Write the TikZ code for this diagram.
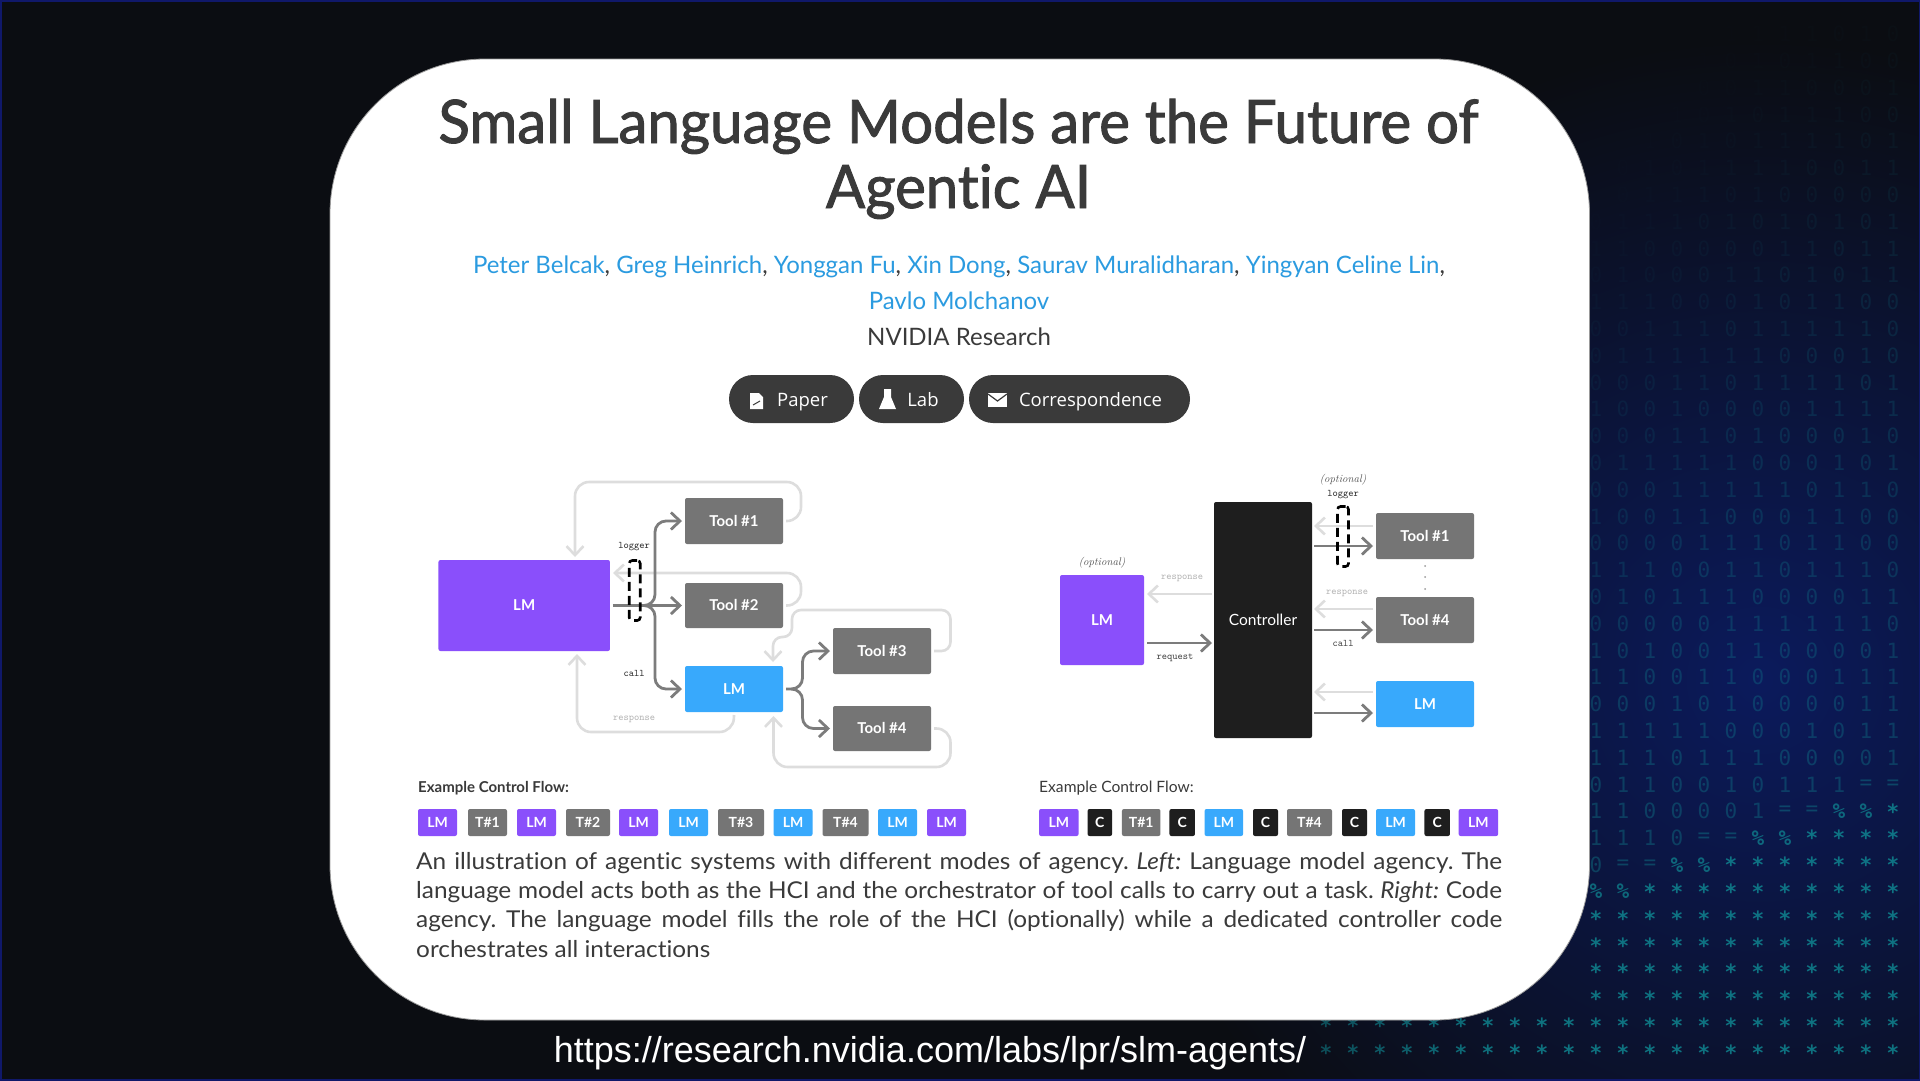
\documentclass[tikz,border=0pt]{standalone}
\usepackage{fontspec}
\usetikzlibrary{arrows.meta}
\newfontfamily\heads[FakeBold=1.6,FakeStretch=0.97,Ligatures=NoCommon]{Lato}
\newfontfamily\bodyf[Ligatures=NoCommon]{Lato}
\newfontfamily\capf[FakeStretch=1.05,Ligatures=NoCommon]{Lato}
\newfontfamily\pillf{Open Sans}
\newfontfamily\glyphf{DejaVu Sans Mono}
\newfontfamily\urlf{Liberation Sans}
\definecolor{bgdark}{HTML}{0B0D12}
\definecolor{glowblue}{HTML}{0B1A5C}
\definecolor{rimblue}{HTML}{10186A}
\definecolor{lmpurple}{HTML}{8A4FFB}
\definecolor{lmblue}{HTML}{38A9FC}
\definecolor{toolgrey}{HTML}{757575}
\definecolor{ctrlblack}{HTML}{1E1E1E}
\definecolor{callgrey}{HTML}{7C7C7C}
\definecolor{backgrey}{HTML}{DDDDDD}
\definecolor{linkblue}{HTML}{2B9BE0}
\definecolor{inktext}{HTML}{3A3A3A}
\definecolor{pillgrey}{HTML}{3A3A3A}
\definecolor{glyphteal}{HTML}{0F8A94}
\newcommand{\capline}[1]{\hbox to 1086pt{\frenchspacing #1}}
\newcommand{\fz}[1]{\fontsize{#1}{#1}\selectfont}
\tikzset{
  >={Straight Barb[length=9pt,width=17pt]},
  glyph/.style={inner sep=0pt,text=glyphteal,font=\glyphf\fz{21}},
  box/.style={inner sep=0pt,outer sep=3pt,rounded corners=2,text=white,text height=10,text depth=0,font=\bodyf\bfseries\fz{15}},
  callline/.style={->,draw=callgrey,line width=2.8},
  backline/.style={->,draw=backgrey,line width=2.6},
  loggerbox/.style={draw=black,line width=2.6,rounded corners=3,dash pattern=on 9pt off 5pt},
  lbl/.style={inner sep=0pt,text=black!85,font=\ttfamily\fz{10}},
  optlbl/.style={inner sep=0pt,text=black!70,font=\itshape\fz{11}},
  chip/.style={inner sep=0pt,rounded corners=2,minimum height=27,text=white,text height=10,text depth=0,font=\bodyf\bfseries\fz{14}},
  pill/.style={fill=pillgrey,rounded corners=24,minimum height=48,inner sep=0pt,text=white,text height=18,text depth=4,font=\pillf\fz{18.5}},
  captext/.style={anchor=base west,inner sep=0pt,text=inktext,font=\capf\fz{23.2}},
}
\begin{document}
\begin{tikzpicture}[x=1pt,y=-1pt]
	\useasboundingbox (0,0) rectangle (1920,1080);
	% backdrop
	\begin{scope}
	\clip (0,0) rectangle (1920,1080);
	\fill [bgdark] (0,0) rectangle (1920,1080);
	\shade [inner color=glowblue,outer color=bgdark] (1760,680) circle (640);
	\pgfmathsetseed{7}
	\foreach \row in {0,...,38} {
		\foreach \col in {-19,...,11} {
			\pgfmathsetmacro{\gx}{1596+27*\col}
			\pgfmathsetmacro{\gy}{34+26.8*\row}
			\pgfmathtruncatemacro{\ghid}{((\gx<1575)&&(\gy<1015))||((\gx<1325)&&(\gy>1020))}
			\ifnum\ghid=0
				\pgfmathtruncatemacro{\gk}{round((\gx-1919+3.07*(\gy-787))/27)}
				\pgfmathsetmacro{\gfade}{min(1,max(0,(\gx-1000)/500))}
				\ifnum\gk<-2
					\pgfmathrandominteger{\gd}{0}{1}
					\def\gch{\gd}
					\pgfmathsetmacro{\gop}{(0.04+\gy/2600)*min(1,max(0,(\gx-1000-0.7*max(0,1000-\gy))/400))}
				\else\ifnum\gk<0
					\def\gch{=}
					\pgfmathsetmacro{\gop}{0.4*\gfade}
				\else\ifnum\gk<2
					\def\gch{\textbf{\%}}
					\pgfmathsetmacro{\gop}{0.7*\gfade}
				\else
					\def\gch{\textbf{*}}
					\pgfmathsetmacro{\gop}{0.8*\gfade}
				\fi\fi\fi
				\node (g\row-\col) [glyph,opacity=\gop] at (\gx,\gy) {\gch};
			\fi
		}
	}
	\draw [rimblue,line width=3] (0,0) rectangle (1920,1080);
	\end{scope}
	\draw [fill=white,draw=black!40,line width=.8,rounded corners=155] (330,59) rectangle (1589.5,1020);
	% heading
	\node (titlea) [anchor=base,inner sep=0pt,text=inktext,font=\heads\fz{60}] at (958.5,143) {Small Language Models are the Future of};
	\node (titleb) [anchor=base,inner sep=0pt,text=inktext,font=\heads\fz{60}] at (958.5,208) {Agentic AI};
	\node (authorsa) [anchor=base,inner sep=0pt,text=inktext,font=\bodyf\fz{24}] at (959,273) {\textcolor{linkblue}{Peter Belcak}, \textcolor{linkblue}{Greg Heinrich}, \textcolor{linkblue}{Yonggan Fu}, \textcolor{linkblue}{Xin Dong}, \textcolor{linkblue}{Saurav Muralidharan}, \textcolor{linkblue}{Yingyan Celine Lin},};
	\node (authorsb) [anchor=base,inner sep=0pt,text=linkblue,font=\bodyf\fz{24}] at (959,309) {Pavlo Molchanov};
	\node (nvidia) [anchor=base,inner sep=0pt,text=inktext,font=\bodyf\fz{24}] at (959,345) {NVIDIA Research};
	% buttons
	\node (paper) [pill,minimum width=125] at (791.5,399) {\hspace*{22pt}Paper};
	\node (lab) [pill,minimum width=105] at (911.5,399) {\hspace*{23pt}Lab};
	\node (corr) [pill,minimum width=221] at (1079.5,399) {\hspace*{22pt}Correspondence};
	\fill [white] (750,393) -- (759,393) -- (763,397) -- (763,409) -- (750,409) -- cycle;
	\draw [pillgrey,line width=1] (753,405) -- (760,401);
	\fill [white] (884,389) -- (891,389) -- (891,397) -- (896,409) -- (879,409) -- (884,397) -- cycle;
	\fill [white] (988,393) rectangle (1007,407);
	\draw [pillgrey,line width=1.2] (988,394) -- (997.5,401) -- (1007,394);
	% left: language model agency
	\node (lma) [box,fill=lmpurple,minimum width=171.5,minimum height=91] at (524.2,605.5) {LM};
	\node (toola) [box,fill=toolgrey,minimum width=98,minimum height=46] at (734,521) {Tool \#1};
	\node (toolb) [box,fill=toolgrey,minimum width=98,minimum height=45] at (734,605.5) {Tool \#2};
	\node (lmb) [box,fill=lmblue,minimum width=98,minimum height=46] at (734,689) {LM};
	\node (toolc) [box,fill=toolgrey,minimum width=98,minimum height=46] at (882,651) {Tool \#3};
	\node (toold) [box,fill=toolgrey,minimum width=98,minimum height=45] at (882,728.5) {Tool \#4};
	\coordinate (split) at (640,605.5);
	\coordinate (splitb) at (792,689);
	\coordinate (ina) at (575,557);
	\coordinate (inb) at (613,573);
	\coordinate (inc) at (577,654);
	\coordinate (ind) at (773,662);
	\coordinate (ine) at (773.5,716);
	\draw [backline,rounded corners=14] (toola.east) -- (801,521) |- (575,482) -- (ina);
	\draw [backline,rounded corners=14] (toolb.east) -- (801,605.5) |- (inb);
	\draw [backline,rounded corners=14] (lmb.south) -- (733.5,732) -| (inc);
	\draw [backline,rounded corners=9] (toolc.east) -- (950.5,651) |- (792,610) -- (792,637) -- (773,637) -- (ind);
	\draw [backline,rounded corners=14] (toold.east) -- (950.5,728.5) |- (773.5,767) -- (ine);
	\draw [callline] (lma) -- (toolb);
	\draw [callline,rounded corners=11] (split) -- (655,605.5) |- (toola);
	\draw [callline,rounded corners=11] (split) -- (655,605.5) |- (lmb);
	\draw [callline,rounded corners=11] (lmb.east) -- (802.5,689) |- (toolc);
	\draw [callline,rounded corners=11] (splitb) -- (802.5,689) |- (toold);
	\node (logga) [loggerbox,minimum width=11,minimum height=60,inner sep=0pt] at (634.7,590.5) {};
	\node (logla) [lbl] at (634,547) {logger};
	\node (calla) [lbl] at (634,673) {call};
	\node (respa) [lbl,text=black!30] at (634,719) {response};
	% right: code agency
	\node (ctrl) [box,fill=ctrlblack,minimum width=98,minimum height=236,outer sep=2pt,font=\bodyf\fz{15.5}] at (1263,620) {Controller};
	\node (lmc) [box,fill=lmpurple,minimum width=84,minimum height=90] at (1102,620) {LM};
	\node (toole) [box,fill=toolgrey,minimum width=98,minimum height=46] at (1425,536) {Tool \#1};
	\node (toolf) [box,fill=toolgrey,minimum width=98,minimum height=46] at (1425,620) {Tool \#4};
	\node (lmd) [box,fill=lmblue,minimum width=98,minimum height=46] at (1425,704) {LM};
	\draw [backline] (ctrl.west |- 0,594) -- (lmc.east |- 0,594);
	\draw [callline] (lmc.east |- 0,643) -- (ctrl.west |- 0,643);
	\draw [backline] (toole.west |- 0,526) -- (ctrl.east |- 0,526);
	\draw [callline] (ctrl.east |- 0,546) -- (toole.west |- 0,546);
	\draw [backline] (toolf.west |- 0,609) -- (ctrl.east |- 0,609);
	\draw [callline] (ctrl.east |- 0,630) -- (toolf.west |- 0,630);
	\draw [backline] (lmd.west |- 0,692) -- (ctrl.east |- 0,692);
	\draw [callline] (ctrl.east |- 0,713) -- (lmd.west |- 0,713);
	\node (loggb) [loggerbox,minimum width=11,minimum height=60,inner sep=0pt] at (1343,536.5) {};
	\node (optb) [optlbl] at (1343,480) {(optional)};
	\node (loglb) [lbl] at (1343,495) {logger};
	\node (optc) [optlbl] at (1102,563) {(optional)};
	\node (respb) [lbl,text=black!30] at (1182,578) {response};
	\node (respc) [lbl,text=black!30] at (1347,593) {response};
	\node (callb) [lbl,text=black!75] at (1343,643) {call};
	\node (reqa) [lbl,text=black!75] at (1175,658) {request};
	\foreach \dy in {566,577,589} \fill [black!40] (1425,\dy) circle (1);
	% control flows
	\node (flowa) [anchor=base west,inner sep=0pt,text=inktext,font=\bodyf\bfseries\fz{15}] at (418,792) {Example Control Flow:};
	\node (flowb) [anchor=base west,inner sep=0pt,text=inktext,font=\bodyf\fz{15.6}] at (1039,792) {Example Control Flow:};
	\foreach \cx/\cw/\cc/\ct [count=\i] in {437.5/39/lmpurple/LM,487.5/39/toolgrey/T\#1,536.5/39/lmpurple/LM,588/44/toolgrey/T\#2,638.5/39/lmpurple/LM,688.5/39/lmblue/LM,741/46/toolgrey/T\#3,793/39/lmblue/LM,845.5/46/toolgrey/T\#4,897.5/39/lmblue/LM,946.5/39/lmpurple/LM}
		\node (cha\i) [chip,fill=\cc,minimum width=\cw] at (\cx,822.5) {\ct};
	\foreach \cx/\cw/\cc/\ct [count=\i] in {1058.8/39.5/lmpurple/LM,1099.8/24.5/ctrlblack/C,1141.2/38.5/toolgrey/T\#1,1182.2/25.5/ctrlblack/C,1223.8/38.5/lmblue/LM,1265.5/25/ctrlblack/C,1309.5/45/toolgrey/T\#4,1354.5/25/ctrlblack/C,1395.5/39/lmblue/LM,1437.2/25.5/ctrlblack/C,1478.4/39.5/lmpurple/LM}
		\node (chb\i) [chip,fill=\cc,minimum width=\cw] at (\cx,822.5) {\ct};
	% caption
	\node (capa) [captext] at (416,869) {\capline{An illustration of agentic systems with different modes of agency. \emph{Left:} Language model agency. The}};
	\node (capb) [captext] at (416,898.4) {\capline{language model acts both as the HCI and the orchestrator of tool calls to carry out a task. \emph{Right:} Code}};
	\node (capc) [captext] at (416,927.8) {\capline{agency. The language model fills the role of the HCI (optionally) while a dedicated controller code}};
	\node (capd) [captext] at (416,957.2) {orchestrates all interactions};
	\node (url) [anchor=base,inner sep=0pt,text=white,font=\urlf\fz{36}] at (930,1062) {https://research.nvidia.com/labs/lpr/slm-agents/};
\end{tikzpicture}
\end{document}
